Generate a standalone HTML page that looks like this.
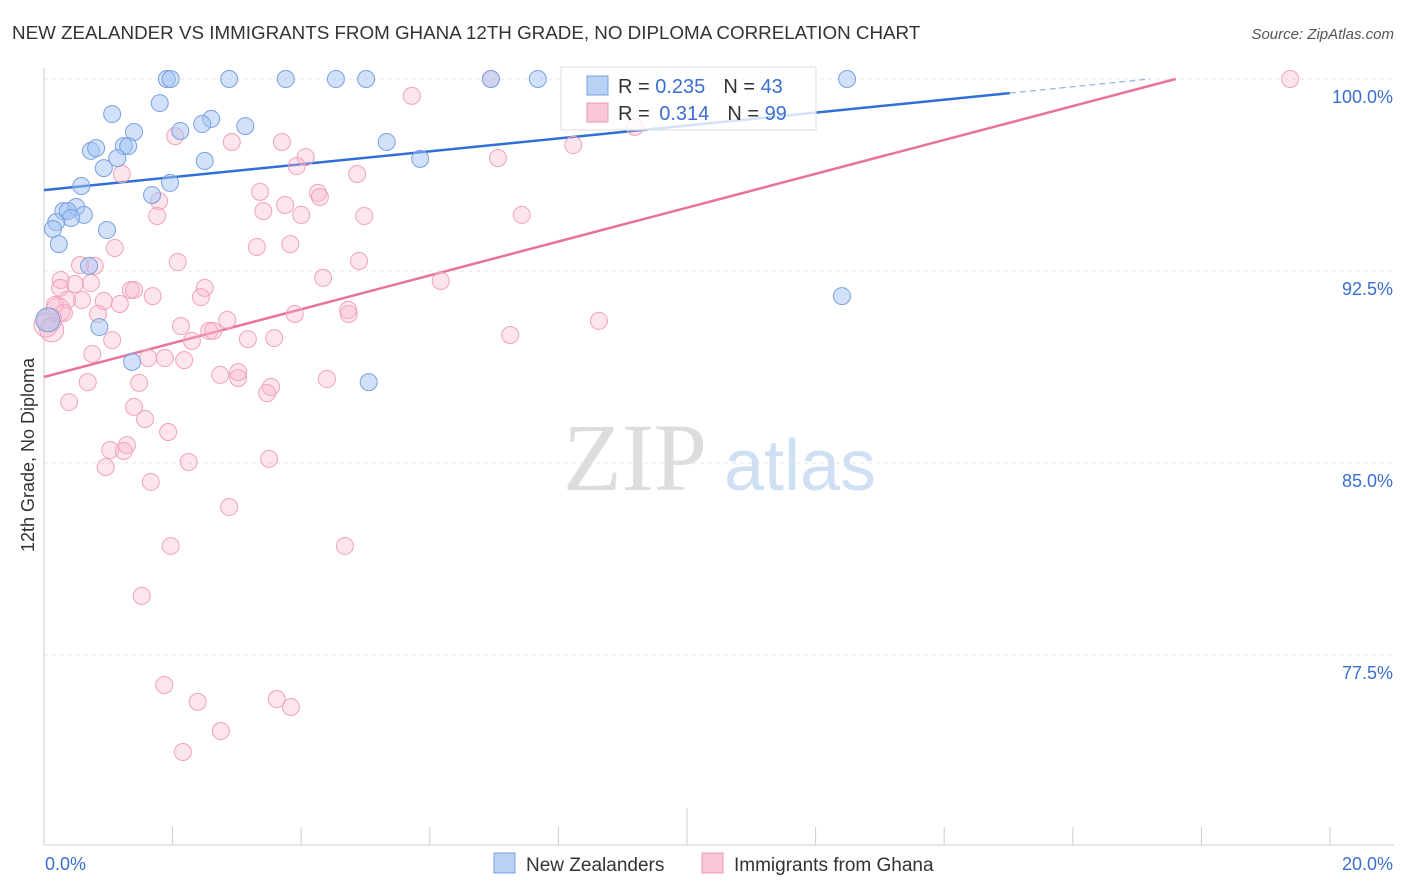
<!DOCTYPE html>
<html><head><meta charset="utf-8"><style>
body{margin:0;background:#fff;font-family:"Liberation Sans",sans-serif;}
svg{display:block}
</style></head><body>
<svg id="chart" width="1406" height="892" xmlns="http://www.w3.org/2000/svg">
<text x="12" y="39" font-size="18.8" fill="#333">NEW ZEALANDER VS IMMIGRANTS FROM GHANA 12TH GRADE, NO DIPLOMA CORRELATION CHART</text>
<text x="1394" y="39" font-size="15" fill="#555" font-style="italic" text-anchor="end">Source: ZipAtlas.com</text>
<text transform="translate(34,455) rotate(-90)" font-size="18" fill="#333" text-anchor="middle">12th Grade, No Diploma</text>
<g>
<text x="635" y="490" font-size="96" fill="#ddd" font-family="Liberation Serif,serif" text-anchor="middle">ZIP</text>
<text x="800" y="490" font-size="72" fill="#cfe0f5" text-anchor="middle">atlas</text>
</g>
<g id="grid"></g><g id="axes"></g><g id="trend"></g><g id="pts"></g>
<g>
<rect x="561" y="67" width="255" height="63" fill="rgba(255,255,255,0.8)" stroke="#ddd"/>
<rect x="587" y="76" width="21" height="19" fill="#b8d1f5" stroke="#7ba0e0"/>
<rect x="587" y="103" width="21" height="19" fill="#f9c7d6" stroke="#ec9ab4"/>
<text x="618" y="93" font-size="20" fill="#333">R = <tspan fill="#3a6fd0">0.235</tspan><tspan dx="18">N = </tspan><tspan fill="#3a6fd0">43</tspan></text>
<text x="618" y="120" font-size="20" fill="#333">R = <tspan fill="#3a6fd0" dx="4">0.314</tspan><tspan dx="18">N = </tspan><tspan fill="#3a6fd0">99</tspan></text>
</g>
<g>
<rect x="494" y="853" width="21" height="20" fill="#b8d1f5" stroke="#7ba0e0"/>
<text x="526" y="871" font-size="19" fill="#333">New Zealanders</text>
<rect x="702" y="853" width="21" height="20" fill="#f9c7d6" stroke="#ec9ab4"/>
<text x="734" y="871" font-size="19" fill="#333">Immigrants from Ghana</text>
</g>
</svg>
<script>
const yTicks=[100,92.5,85,77.5];
const yTickLabels=["100.0%","92.5%","85.0%","77.5%"];
const xTickLabels=["0.0%","20.0%"];
const blueX=[1.91,1.97,2.88,3.76,4.54,5.01,6.95,7.68,12.49,1.06,1.80,2.60,2.46,3.13,2.12,1.40,0.73,0.81,1.24,1.31,1.14,0.93,5.33,5.85,2.50,0.58,1.68,1.96,0.30,0.50,0.37,0.62,0.42,0.19,0.14,0.98,0.23,0.70,0.86,1.37,5.05,12.41,0.06];
const blueY=[100,100,100,100,100,100,100,100,100,98.63,99.06,98.44,98.24,98.16,97.97,97.93,97.19,97.30,97.38,97.38,96.91,96.52,97.54,96.88,96.80,95.82,95.47,95.94,94.84,95.00,94.84,94.69,94.57,94.41,94.14,94.10,93.55,92.70,90.31,88.95,88.16,91.52,90.59];
const pinkX=[6.95,19.38,5.72,9.19,8.23,2.04,2.92,3.70,3.93,4.07,7.06,1.21,4.87,3.36,4.26,4.29,1.79,3.75,3.41,1.76,4.00,4.98,7.43,1.10,3.31,3.83,2.08,0.79,0.56,4.90,4.34,6.17,0.26,0.48,0.73,2.50,0.25,1.35,1.40,2.44,1.69,0.59,0.93,1.18,0.17,0.36,0.84,0.31,4.74,3.90,4.73,0.09,8.63,2.85,2.13,2.57,2.63,7.25,1.06,2.30,3.17,3.58,0.75,1.88,1.62,2.18,2.74,3.02,3.02,3.53,3.47,0.68,1.48,4.40,0.39,1.40,1.57,1.93,1.29,1.03,1.24,3.50,2.25,0.96,1.66,2.88,1.97,4.68,1.52,1.87,2.39,3.62,3.84,2.75,2.16,0.03,0.12,0.22];
const pinkY=[100,100,99.34,98.13,97.42,97.77,97.54,97.54,96.60,96.95,96.91,96.29,96.29,95.59,95.55,95.39,95.23,95.08,94.84,94.65,94.69,94.65,94.69,93.40,93.44,93.55,92.85,92.70,92.73,92.89,92.23,92.11,92.15,91.99,92.03,91.84,91.84,91.76,91.76,91.48,91.52,91.37,91.33,91.21,91.17,91.37,90.82,90.86,90.82,90.82,90.98,90.59,90.55,90.59,90.35,90.16,90.16,90.00,89.80,89.77,89.84,89.88,89.26,89.10,89.10,89.02,88.44,88.32,88.55,87.97,87.73,88.16,88.13,88.28,87.38,87.19,86.72,86.21,85.70,85.51,85.47,85.16,85.04,84.84,84.26,83.28,81.76,81.76,79.81,76.33,75.67,75.78,75.47,74.53,73.71,90.39,90.20,90.98];
const blueTrend=[95.66,99.45,15.02];
const pinkTrend=[88.36,100,17.6];
const NS="http://www.w3.org/2000/svg";
const xs=v=>44+v/20*1286;
const ys=v=>79+(100-v)*25.6;
function mk(tag,attrs,parent){const e=document.createElementNS(NS,tag);for(const k in attrs)e.setAttribute(k,attrs[k]);document.getElementById(parent).appendChild(e);return e;}
yTicks.forEach((t,i)=>{
 const l=mk('line',{x1:44,x2:1394,y1:ys(t),y2:ys(t),stroke:'#e4e4e4','stroke-dasharray':'4,4'},'grid');
 
 
 const tx=mk('text',{x:1393,y:ys(t)+24,'font-size':18,fill:'#3a6fd0','text-anchor':'end'},'grid');
 tx.textContent=yTickLabels[i];
 
 
});
let a=mk('line',{x1:44,x2:44,y1:68,y2:845,stroke:'#ccc'},'axes');


a=mk('line',{x1:44,x2:1394,y1:845,y2:845,stroke:'#ccc'},'axes');


for(let v=2;v<=20;v+=2){const t=mk('line',{x1:xs(v),x2:xs(v),y1:v===10?808:827,y2:845,stroke:'#ccc'},'axes');
 
 }
[[0,'start'],[20,'end']].forEach((p,i)=>{const t=mk('text',{x:i?1393:45,y:870,'font-size':18,fill:'#3a6fd0','text-anchor':p[1]},'axes');t.textContent=xTickLabels[i];
 
 });
function pts(X,Y,fill,stroke,name){X.forEach((x,i)=>{const c=mk('circle',{cx:xs(x),cy:ys(Y[i]),r:(x<0.25&&Y[i]<91)?12:8.5,fill:fill,stroke:stroke,'stroke-width':1},'pts');
 
 });}
pts(pinkX,pinkY,'rgba(248,180,200,0.35)','#efa3bb','ghana-point');
pts(blueX,blueY,'rgba(164,196,244,0.5)','#7ba0e0','new-zealander-point');
const bs=(blueTrend[1]-blueTrend[0])/blueTrend[2];
let t=mk('line',{x1:xs(0),y1:ys(blueTrend[0]),x2:xs(blueTrend[2]),y2:ys(blueTrend[1]),stroke:'#2f6fd6','stroke-width':2.5},'trend');


const xe=(100-blueTrend[0])/bs;
t=mk('line',{x1:xs(blueTrend[2]),y1:ys(blueTrend[1]),x2:xs(xe),y2:ys(100),stroke:'#8fb0e6','stroke-width':1.2,'stroke-dasharray':'6,4'},'trend');


t=mk('line',{x1:xs(0),y1:ys(pinkTrend[0]),x2:xs(pinkTrend[2]),y2:ys(pinkTrend[1]),stroke:'#e8729a','stroke-width':2.5},'trend');


</script>
</body></html>
